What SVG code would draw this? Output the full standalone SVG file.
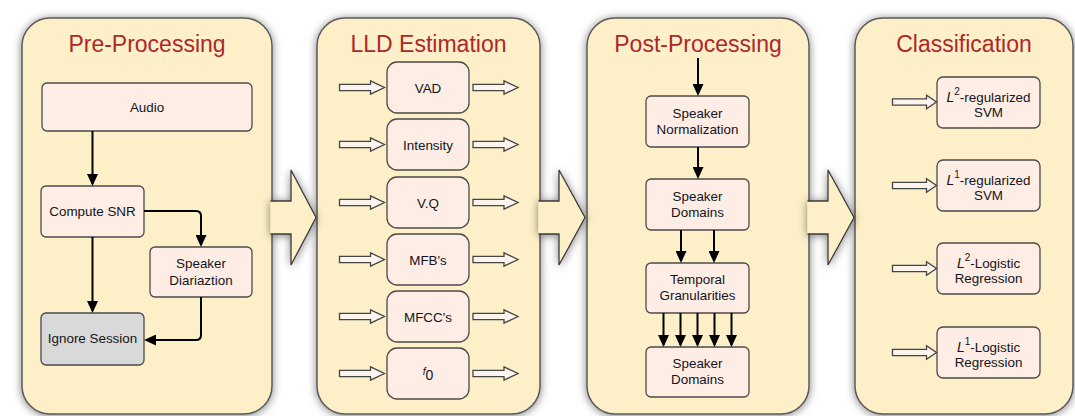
<svg xmlns="http://www.w3.org/2000/svg" xmlns:xlink="http://www.w3.org/1999/xlink" width="1075" height="416" viewBox="0 0 1075 416">
<style>
.panel{fill:#fdf0c8;stroke:#5a5a5a;stroke-width:1.5}
.big{fill:#fdf0c8;stroke:#3a3a3a;stroke-width:1.3;stroke-linejoin:miter}
.title{font-family:"Liberation Sans",Arial,sans-serif;font-size:23px;fill:#ad272b;text-anchor:middle}
.box{fill:#fdede5;stroke:#4a4a4a;stroke-width:1.3}
.grey{fill:#d9d9d9;stroke:#4a4a4a;stroke-width:1.3}
.t{font-family:"Liberation Sans",Arial,sans-serif;font-size:13.4px;fill:#141420;text-anchor:middle}
.conn{fill:none;stroke:#000;stroke-width:2}
.hollow{fill:#fdf4ee;stroke:#444;stroke-width:1.3}
</style>
<defs>
<filter id="sh" x="-10%" y="-10%" width="120%" height="120%">
<feDropShadow dx="0" dy="1" stdDeviation="4" flood-color="#000" flood-opacity="0.5"/>
</filter>
<marker id="ah" markerUnits="userSpaceOnUse" markerWidth="12" markerHeight="11" refX="10" refY="5.5" orient="auto">
<path d="M0,0 L12,5.5 L0,11 Z" fill="#000"/>
</marker>
<path id="ha1" class="hollow" d="M0,-3.2 H31 V-6.7 L45,0 L31,6.7 V3.2 H0 Z"/>
<path id="ha2" class="hollow" d="M0,-3.2 H34 V-6.7 L44,0 L34,6.7 V3.2 H0 Z"/>
</defs>
<rect width="1075" height="416" fill="#ffffff"/>

<g id="panels" filter="url(#sh)">
<rect id="panel-pre" class="panel" x="22" y="18" width="250" height="396" rx="28"/>
<rect id="panel-lld" class="panel" x="317" y="18" width="223" height="396" rx="28"/>
<rect id="panel-post" class="panel" x="587" y="18" width="222" height="396" rx="28"/>
<rect id="panel-cls" class="panel" x="855" y="18" width="218" height="396" rx="28"/>
</g>
<g id="stage-arrows" filter="url(#sh)">
<path class="big" d="M270.5,201 H291 V170 L316,217.5 L291,265 V234 H270.5"/>
<path class="big" d="M538.5,201 H559 V170 L585,217.5 L559,265 V234 H538.5"/>
<path class="big" d="M807.5,201 H828 V170 L854,217.5 L828,265 V234 H807.5"/>
</g>

<g id="titles">
<text class="title" x="147" y="52">Pre-Processing</text>
<text class="title" x="428.5" y="52">LLD Estimation</text>
<text class="title" x="698" y="52">Post-Processing</text>
<text class="title" x="964" y="52">Classification</text>
</g>

<g id="audio"><rect class="box" x="42" y="83" width="210" height="48" rx="5"/><text class="t" x="147" y="111.5">Audio</text></g>
<g id="snr"><rect class="box" x="41" y="186" width="103" height="51" rx="5"/><text class="t" x="92.5" y="216">Compute SNR</text></g>
<g id="diar"><rect class="box" x="150" y="247" width="102" height="50" rx="5"/><text class="t" x="201" y="268">Speaker</text><text class="t" x="201" y="284.5">Diariaztion</text></g>
<g id="ignore"><rect class="grey" x="41" y="313" width="103" height="52" rx="5"/><text class="t" x="92.5" y="343">Ignore Session</text></g>

<g id="lld-vad"><rect class="box" x="387" y="62" width="82" height="51" rx="10"/><text class="t" x="428" y="92.5">VAD</text></g>
<g id="lld-int"><rect class="box" x="387" y="119" width="82" height="51" rx="10"/><text class="t" x="428" y="149.5">Intensity</text></g>
<g id="lld-vq"><rect class="box" x="387" y="177" width="82" height="51" rx="10"/><text class="t" x="428" y="207.5">V.Q</text></g>
<g id="lld-mfb"><rect class="box" x="387" y="234" width="82" height="51" rx="10"/><text class="t" x="428" y="264.5">MFB's</text></g>
<g id="lld-mfcc"><rect class="box" x="387" y="291" width="82" height="51" rx="10"/><text class="t" x="428" y="321.5">MFCC's</text></g>
<g id="lld-f0"><rect class="box" x="387" y="348" width="82" height="51" rx="10"/><text class="t" x="428" y="379.5"><tspan font-style="italic" font-size="10.5px" dy="-4.5">f</tspan><tspan dy="4.5" font-size="14px">0</tspan></text></g>

<g id="post-norm"><rect class="box" x="646" y="96" width="103" height="51" rx="5"/><text class="t" x="697.5" y="117.5">Speaker</text><text class="t" x="697.5" y="133.5">Normalization</text></g>
<g id="post-dom1"><rect class="box" x="646" y="179" width="103" height="51" rx="5"/><text class="t" x="697.5" y="200.5">Speaker</text><text class="t" x="697.5" y="216.5">Domains</text></g>
<g id="post-temp"><rect class="box" x="646" y="263" width="103" height="50" rx="5"/><text class="t" x="697.5" y="284">Temporal</text><text class="t" x="697.5" y="300">Granularities</text></g>
<g id="post-dom2"><rect class="box" x="646" y="347" width="103" height="50" rx="5"/><text class="t" x="697.5" y="368">Speaker</text><text class="t" x="697.5" y="384">Domains</text></g>

<g id="cls-l2svm"><rect class="box" x="937" y="77" width="103" height="51" rx="6"/><text class="t" x="988.5" y="101.5"><tspan font-style="italic" font-size="14px">L</tspan><tspan dy="-7" font-size="10px">2</tspan><tspan dy="7">-regularized</tspan></text><text class="t" x="988.5" y="116.5">SVM</text></g>
<g id="cls-l1svm"><rect class="box" x="937" y="160" width="103" height="51" rx="6"/><text class="t" x="988.5" y="184.5"><tspan font-style="italic" font-size="14px">L</tspan><tspan dy="-7" font-size="10px">1</tspan><tspan dy="7">-regularized</tspan></text><text class="t" x="988.5" y="199.5">SVM</text></g>
<g id="cls-l2lr"><rect class="box" x="937" y="243" width="103" height="51" rx="6"/><text class="t" x="988.5" y="267.5"><tspan font-style="italic" font-size="14px">L</tspan><tspan dy="-7" font-size="10px">2</tspan><tspan dy="7">-Logistic</tspan></text><text class="t" x="988.5" y="282.5">Regression</text></g>
<g id="cls-l1lr"><rect class="box" x="937" y="327" width="103" height="51" rx="6"/><text class="t" x="988.5" y="351.5"><tspan font-style="italic" font-size="14px">L</tspan><tspan dy="-7" font-size="10px">1</tspan><tspan dy="7">-Logistic</tspan></text><text class="t" x="988.5" y="366.5">Regression</text></g>

<g id="connectors">
<path class="conn" marker-end="url(#ah)" d="M92.5,131 V184"/>
<path class="conn" marker-end="url(#ah)" d="M92.5,237 V311"/>
<path class="conn" marker-end="url(#ah)" d="M144,211 H196 Q201,211 201,216 V245"/>
<path class="conn" marker-end="url(#ah)" d="M201,297 V335 Q201,340 196,340 H146"/>
<path class="conn" marker-end="url(#ah)" d="M698,58 V94"/>
<path class="conn" marker-end="url(#ah)" d="M698,147 V177"/>
<path class="conn" marker-end="url(#ah)" d="M681,230 V261"/>
<path class="conn" marker-end="url(#ah)" d="M714,230 V261"/>
<path class="conn" marker-end="url(#ah)" d="M663.5,313 V345"/>
<path class="conn" marker-end="url(#ah)" d="M680.5,313 V345"/>
<path class="conn" marker-end="url(#ah)" d="M697.5,313 V345"/>
<path class="conn" marker-end="url(#ah)" d="M714.5,313 V345"/>
<path class="conn" marker-end="url(#ah)" d="M731.5,313 V345"/>
<use href="#ha1" x="339.5" y="87.5"/><use href="#ha1" x="473" y="87.5"/>
<use href="#ha1" x="339.5" y="144.5"/><use href="#ha1" x="473" y="144.5"/>
<use href="#ha1" x="339.5" y="202.5"/><use href="#ha1" x="473" y="202.5"/>
<use href="#ha1" x="339.5" y="259.5"/><use href="#ha1" x="473" y="259.5"/>
<use href="#ha1" x="339.5" y="316.5"/><use href="#ha1" x="473" y="316.5"/>
<use href="#ha1" x="339.5" y="373.5"/><use href="#ha1" x="473" y="373.5"/>
<use href="#ha2" x="892.5" y="102"/>
<use href="#ha2" x="892.5" y="185.5"/>
<use href="#ha2" x="892.5" y="268.5"/>
<use href="#ha2" x="892.5" y="352.5"/>
</g>
</svg>
